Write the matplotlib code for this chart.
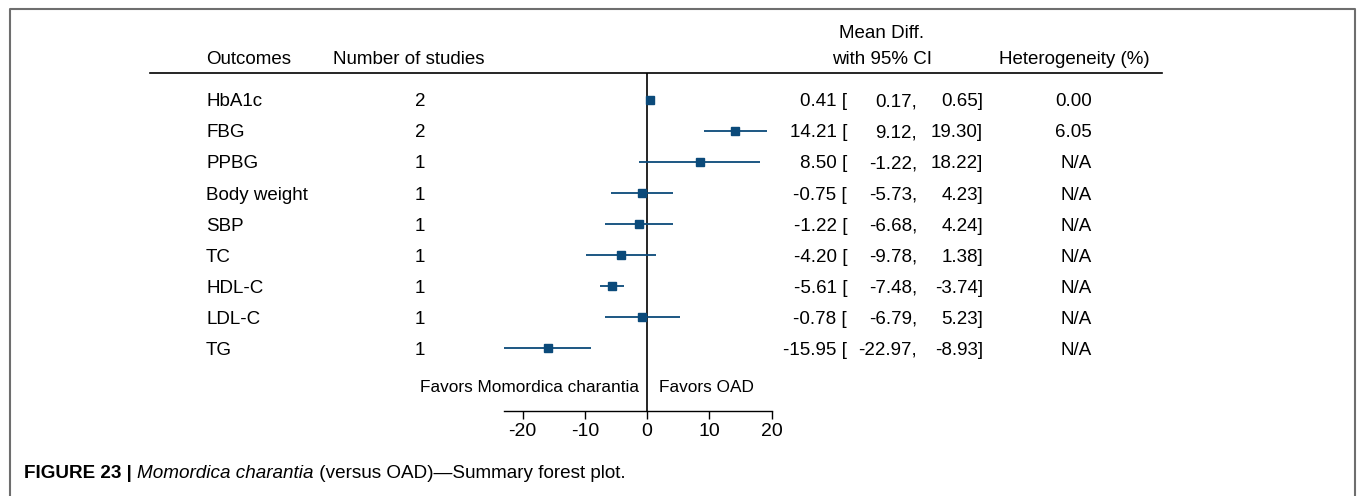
import matplotlib
matplotlib.use("Agg")
import matplotlib.pyplot as plt
from matplotlib.lines import Line2D
from matplotlib.transforms import blended_transform_factory

# Data
outcomes = ["HbA1c", "FBG", "PPBG", "Body weight", "SBP", "TC", "HDL-C", "LDL-C", "TG"]
n_studies = [2, 2, 1, 1, 1, 1, 1, 1, 1]
mean_diff = [0.41, 14.21, 8.50, -0.75, -1.22, -4.20, -5.61, -0.78, -15.95]
ci_low = [0.17, 9.12, -1.22, -5.73, -6.68, -9.78, -7.48, -6.79, -22.97]
ci_high = [0.65, 19.30, 18.22, 4.23, 4.24, 1.38, -3.74, 5.23, -8.93]
heterogeneity = ["0.00", "6.05", "N/A", "N/A", "N/A", "N/A", "N/A", "N/A", "N/A"]
xticks = [-20, -10, 0, 10, 20]

W, H = 1357, 496
plt.rcParams['font.family'] = ['Liberation Sans', 'DejaVu Sans']
fs = 13.5
col = '#0b4a7a'

fig = plt.figure(figsize=(W / 100, H / 100), dpi=100)

# forest axes: x px = 647 + 6.225*d, rows at 100 + 31*i
xmin, xmax = -30, 20
px_unit = 6.225
left_px = 647 + xmin * px_unit
ax = fig.add_axes([left_px / W, (H - 411) / H, (xmax - xmin) * px_unit / W, 338 / H])
ax.set_xlim(xmin, xmax)
ax.set_ylim(10.03, -0.87)

for s in ['top', 'right', 'left']:
    ax.spines[s].set_visible(False)
ax.spines['bottom'].set_bounds(min(ci_low), max(xticks))
ax.spines['bottom'].set_linewidth(1.0)
ax.set_yticks([])
ax.set_xticks(xticks)
ax.set_xticklabels([str(t) for t in xticks], fontsize=14)
ax.tick_params(axis='x', length=6, width=1.0, pad=3)

rows = list(range(len(outcomes)))
ax.axvline(0, color='black', lw=1.2)
ax.hlines(rows, ci_low, ci_high, color=col, lw=1.3)
ax.plot(mean_diff, rows, 's', color=col, ms=5.8, mec=col, ls='none')

# text columns
tr = blended_transform_factory(fig.transFigure, ax.transData)
va = 'center_baseline'
for i in rows:
    ax.text(206 / W, i, outcomes[i], transform=tr, fontsize=fs, va=va, ha='left')
    ax.text(420 / W, i, str(n_studies[i]), transform=tr, fontsize=fs, va=va, ha='center')
    ax.text(847 / W, i, f"{mean_diff[i]:.2f} [", transform=tr, fontsize=fs, va=va, ha='right')
    ax.text(917 / W, i, f"{ci_low[i]:.2f},", transform=tr, fontsize=fs, va=va, ha='right')
    ax.text(983 / W, i, f"{ci_high[i]:.2f}]", transform=tr, fontsize=fs, va=va, ha='right')
    ax.text(1092 / W, i, heterogeneity[i], transform=tr, fontsize=fs, va=va, ha='right')

# headers
hy = 1 - 57 / H
fig.text(206 / W, hy, "Outcomes", fontsize=fs, va=va, ha='left')
fig.text(333 / W, hy, "Number of studies", fontsize=fs, va=va, ha='left')
fig.text(882 / W, hy, "with 95% CI", fontsize=fs, va=va, ha='center')
fig.text(882 / W, 1 - 32 / H, "Mean Diff.", fontsize=fs, va=va, ha='center')
fig.text(999 / W, hy, "Heterogeneity (%)", fontsize=fs, va=va, ha='left')
fig.add_artist(Line2D([150 / W, 1162 / W], [1 - 73 / H, 1 - 73 / H], color='black', lw=1.2))

# favors labels
fy = 1 - 386 / H
fig.text(639 / W, fy, "Favors Momordica charantia", fontsize=12.4, va=va, ha='right')
fig.text(659 / W, fy, "Favors OAD", fontsize=12.4, va=va, ha='left')

# border (open at bottom)
bc = '#6e6e6e'
fig.add_artist(Line2D([9.5 / W, 9.5 / W, 1354.5 / W, 1354.5 / W],
                      [0, 1 - 8.5 / H, 1 - 8.5 / H, 0], color=bc, lw=1.5))

# caption
cy = 1 - 473 / H
cfs = 13.6
t1 = fig.text(24 / W, cy, "FIGURE 23 | ", fontsize=cfs, weight='bold', va='center')
t2 = ax.annotate("Momordica charantia", xy=(1, 0), xycoords=t1, va='bottom', ha='left',
                 fontsize=cfs, style='italic')
ax.annotate(" (versus OAD)\u2014Summary forest plot.", xy=(1, 0), xycoords=t2, va='bottom', ha='left',
            fontsize=cfs)

fig.savefig("out.png", dpi=100)
